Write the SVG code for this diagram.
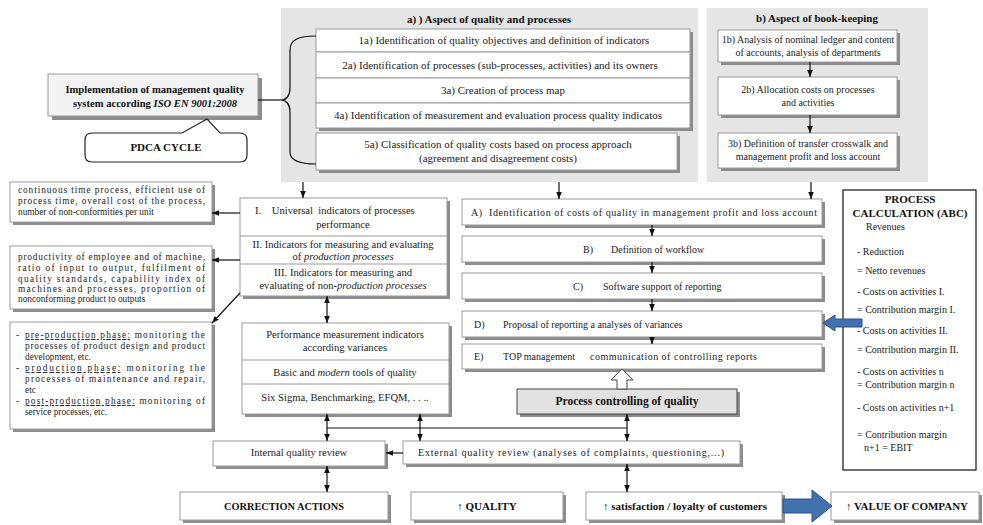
<svg xmlns="http://www.w3.org/2000/svg" width="983" height="525" viewBox="0 0 983 525">
<defs>
<style>
.t{font-family:"Liberation Serif","Times New Roman",serif;font-size:10px;fill:#222}
.c{text-anchor:middle}
.b{font-weight:bold;fill:#111}
.i{font-style:italic}
.u{text-decoration:underline}
.s11{font-size:11px}
.s106{font-size:10.6px}
.sl{font-size:9.3px}
.bx{fill:#fff;stroke:#9a9a9a;stroke-width:1}
.sh{fill:#8c8c8c}
.pn{fill:#e5e5e5}
.ln{stroke:#111;stroke-width:1.2;fill:none}
.blue{fill:#4272ad;stroke:#2c5185;stroke-width:1}
</style>
<marker id="ah" viewBox="0 0 10 10" refX="10" refY="5" markerWidth="7" markerHeight="7" markerUnits="userSpaceOnUse" orient="auto-start-reverse"><path d="M0,1 L10,5 L0,9 z" fill="#111"/></marker>
</defs>
<rect width="983" height="525" fill="#fff"/>

<g id="panel-a">
<rect class="pn" x="281" y="8" width="417" height="174"/>
<text class="t b c s11" x="489" y="23">a) ) Aspect of quality and processes</text>
<rect class="sh" x="319" y="32" width="374" height="99"/>
<g id="a1"><rect class="bx" x="316" y="29" width="374" height="23"/><text class="t c s11" x="504" y="44">1a) Identification of quality objectives  and definition of indicators</text></g>
<g id="a2"><rect class="bx" x="316" y="52" width="374" height="26"/><text class="t c s11" x="500" y="69">2a) Identification of processes (sub-processes, activities) and its owners</text></g>
<g id="a3"><rect class="bx" x="316" y="78" width="374" height="25"/><text class="t c s11" x="503" y="94">3a) Creation of process map</text></g>
<g id="a4"><rect class="bx" x="316" y="103" width="374" height="25"/><text class="t c s11" x="498" y="119">4a) Identification of measurement and evaluation process  quality indicatos</text></g>
<g id="a5"><rect class="sh" x="319" y="136" width="361" height="37"/><rect class="bx" x="316" y="133" width="361" height="37"/><text class="t c s11" x="498" y="148">5a) Classification of quality costs based on process approach</text><text class="t c s11" x="498" y="162">(agreement and disagreement costs)</text></g>
</g>

<g id="panel-b">
<rect class="pn" x="707" y="8" width="221" height="174"/>
<text class="t b c s11" x="817" y="22">b) Aspect of book-keeping</text>
<g id="b1"><rect class="sh" x="721" y="33" width="179" height="32"/><rect class="bx" x="718" y="30" width="179" height="32"/><text class="t c" x="808" y="43">1b) Analysis of nominal ledger and content</text><text class="t c" x="808" y="56">of accounts, analysis of departments</text></g>
<g id="b2"><rect class="sh" x="721" y="80" width="179" height="38"/><rect class="bx" x="718" y="77" width="179" height="38"/><text class="t c" x="808" y="93">2b) Allocation costs on processes</text><text class="t c" x="808" y="106">and activities</text></g>
<g id="b3"><rect class="sh" x="721" y="136" width="179" height="35"/><rect class="bx" x="718" y="133" width="179" height="35"/><text class="t c" x="808" y="147">3b) Definition of transfer crosswalk and</text><text class="t c" x="808" y="160">management profit and loss account</text></g>
</g>

<g id="implementation">
<rect class="sh" x="52" y="78" width="210" height="42"/>
<rect x="48" y="74" width="210" height="42" fill="#f3f3f3" stroke="#9a9a9a"/>
<text class="t b c" x="155" y="93" style="font-size:10.6px">Implementation of management quality</text>
<text class="t b c" x="155" y="107" style="font-size:10.6px">system according <tspan class="i">ISO EN 9001:2008</tspan></text>
</g>

<g id="pdca">
<path d="M92,133 H182 L207,119 L220,133 H240 Q247,133 247,140 V155 Q247,162 240,162 H92 Q85,162 85,155 V140 Q85,133 92,133 Z" fill="#fff" stroke="#222" stroke-width="1.2"/>
<text class="t b c s11" x="166" y="151">PDCA CYCLE</text>
</g>

<g id="left1">
<rect class="sh" x="13" y="185" width="202" height="40"/>
<rect class="bx" x="10" y="182" width="202" height="40"/>
<text class="t sl" x="18" y="193" textLength="187" lengthAdjust="spacing">continuous time process, efficient use of</text>
<text class="t sl" x="18" y="204" textLength="187" lengthAdjust="spacing">process time, overall cost of the process,</text>
<text class="t sl" x="18" y="215">number of non-conformities per unit</text>
</g>

<g id="left2">
<rect class="sh" x="13" y="249" width="202" height="63"/>
<rect class="bx" x="10" y="246" width="202" height="63"/>
<text class="t sl" x="18" y="260" textLength="187" lengthAdjust="spacing">productivity of employee and of machine,</text>
<text class="t sl" x="18" y="271" textLength="187" lengthAdjust="spacing">ratio of input to output, fulfilment of</text>
<text class="t sl" x="18" y="282" textLength="187" lengthAdjust="spacing">quality standards, capability index of</text>
<text class="t sl" x="18" y="292" textLength="187" lengthAdjust="spacing">machines and processes, proportion of</text>
<text class="t sl" x="18" y="302">nonconforming product to outputs</text>
</g>

<g id="left3">
<rect class="sh" x="13" y="325" width="202" height="107"/>
<rect class="bx" x="10" y="322" width="202" height="107"/>
<text class="t sl" x="16" y="338">-</text>
<text class="t sl" x="25" y="338" textLength="180" lengthAdjust="spacing"><tspan class="u">pre-production phase:</tspan> monitoring the</text>
<text class="t sl" x="25" y="349" textLength="180" lengthAdjust="spacing">processes of product design and product</text>
<text class="t sl" x="25" y="360">development, etc.</text>
<text class="t sl" x="16" y="371">-</text>
<text class="t sl" x="25" y="371" textLength="180" lengthAdjust="spacing"><tspan class="u">production phase:</tspan>  monitoring the</text>
<text class="t sl" x="25" y="382" textLength="180" lengthAdjust="spacing">processes of maintenance and repair,</text>
<text class="t sl" x="25" y="393">etc</text>
<text class="t sl" x="16" y="404">-</text>
<text class="t sl" x="25" y="404" textLength="180" lengthAdjust="spacing"><tspan class="u">post-production phase:</tspan> monitoring of</text>
<text class="t sl" x="25" y="415">service processes, etc.</text>
</g>

<g id="indicators">
<rect class="sh" x="243" y="201" width="207" height="98"/>
<rect class="bx" x="240" y="198" width="207" height="98"/>
<line x1="240" y1="236" x2="447" y2="236" stroke="#9a9a9a"/>
<line x1="240" y1="264" x2="447" y2="264" stroke="#9a9a9a"/>
<text class="t s106" x="255" y="214" xml:space="preserve">I.    Universal  indicators of processes</text>
<text class="t c s106" x="343" y="228">performance</text>
<text class="t c s106" x="343" y="248">II. Indicators for measuring and evaluating</text>
<text class="t c s106" x="343" y="260">of <tspan class="i">production processes</tspan></text>
<text class="t c s106" x="343" y="276">III. Indicators for measuring and</text>
<text class="t c s106" x="343" y="289">evaluating of non-<tspan class="i">production processes</tspan></text>
</g>

<g id="performance">
<rect class="sh" x="245" y="326" width="207" height="91"/>
<rect class="bx" x="242" y="323" width="207" height="91"/>
<line x1="242" y1="360" x2="449" y2="360" stroke="#9a9a9a"/>
<line x1="242" y1="384" x2="449" y2="384" stroke="#9a9a9a"/>
<text class="t c s106" x="345" y="338">Performance measurement indicators</text>
<text class="t c s106" x="345" y="351">according variances</text>
<text class="t c s106" x="345" y="376">Basic and <tspan class="i">modern</tspan> tools of quality</text>
<text class="t c s106" x="345" y="401">Six Sigma, Benchmarking, EFQM, . . ..</text>
</g>

<g id="stepA"><rect class="sh" x="465" y="202" width="360" height="26"/><rect class="bx" x="462" y="199" width="360" height="26"/><text class="t" x="471" y="216" textLength="346" lengthAdjust="spacing" xml:space="preserve">A)  Identification of costs of quality in management profit and loss account</text></g>
<g id="stepB"><rect class="sh" x="465" y="239" width="360" height="26"/><rect class="bx" x="462" y="236" width="360" height="26"/><text class="t" x="583" y="253">B)</text><text class="t" x="611" y="253">Definition of workflow</text></g>
<g id="stepC"><rect class="sh" x="465" y="276" width="360" height="26"/><rect class="bx" x="462" y="273" width="360" height="26"/><text class="t" x="573" y="290">C)</text><text class="t" x="603" y="290">Software support of reporting</text></g>
<g id="stepD"><rect class="sh" x="465" y="314" width="360" height="26"/><rect class="bx" x="462" y="311" width="360" height="26"/><text class="t" x="474" y="328">D)</text><text class="t" x="503" y="328">Proposal of reporting a analyses of variances</text></g>
<g id="stepE"><rect class="sh" x="465" y="347" width="360" height="25"/><rect class="bx" x="462" y="344" width="360" height="25"/><text class="t" x="474" y="360">E)</text><text class="t" x="503" y="360">TOP management</text><text class="t" x="590" y="360" textLength="167" lengthAdjust="spacing">communication of controlling reports</text></g>

<g id="controlling">
<rect x="520" y="392" width="220" height="25" fill="#8c8c8c"/>
<rect x="517" y="389" width="220" height="25" fill="#e2e2e2" stroke="#444"/>
<text class="t b c" x="627" y="405" style="font-size:11.5px">Process controlling of quality</text>
</g>

<g id="calc">
<rect x="843" y="190" width="133" height="280" fill="#fff" stroke="#111" stroke-width="1.2"/>
<text class="t b c s11" x="910" y="203">PROCESS</text>
<text class="t b c s11" x="910" y="217">CALCULATION (ABC)</text>
<text class="t" x="866" y="230">Revenues</text>
<text class="t" x="857" y="255">- Reduction</text>
<text class="t" x="857" y="274">= Netto revenues</text>
<text class="t" x="857" y="295">- Costs on activities I.</text>
<text class="t" x="857" y="313">= Contribution margin I.</text>
<text class="t" x="857" y="334">- Costs on activities II.</text>
<text class="t" x="857" y="353">= Contribution margin II.</text>
<text class="t" x="857" y="375">- Costs on activities n</text>
<text class="t" x="857" y="388">= Contribution margin n</text>
<text class="t" x="857" y="411">- Costs on activities n+1</text>
<text class="t" x="857" y="438">= Contribution margin</text>
<text class="t" x="864" y="451">n+1 = EBIT</text>
</g>

<g id="internal"><rect class="sh" x="216" y="444" width="172" height="25"/><rect class="bx" x="213" y="441" width="172" height="25"/><text class="t c s106" x="299" y="456">Internal quality review</text></g>
<g id="external"><rect class="sh" x="406" y="444" width="337" height="23"/><rect class="bx" x="403" y="441" width="337" height="23"/><text class="t" x="418" y="456" textLength="306" lengthAdjust="spacing">External quality review (analyses of complaints, questioning,...)</text></g>

<g id="correction"><rect class="sh" x="183" y="495" width="208" height="28"/><rect class="bx" x="180" y="492" width="208" height="28"/><text class="t b c" x="284" y="510" style="font-size:10.3px">CORRECTION ACTIONS</text></g>
<g id="quality"><rect class="sh" x="414" y="495" width="152" height="28"/><rect class="bx" x="411" y="492" width="152" height="28"/><text class="t b c s11" x="487" y="510">↑ QUALITY</text></g>
<g id="satisfaction"><rect class="sh" x="589" y="495" width="196" height="28"/><rect class="bx" x="586" y="492" width="196" height="28"/><text class="t b c s11" x="685" y="510">↑ satisfaction / loyalty of customers</text></g>
<g id="value"><rect class="sh" x="834" y="495" width="148" height="28"/><rect class="bx" x="831" y="492" width="148" height="28"/><text class="t b c s11" x="907" y="510">↑ VALUE OF COMPANY</text></g>

<g id="connectors">
<path class="ln" d="M258,100 H281"/>
<path class="ln" d="M316,36 C298,36 290,40 290,50 V88 C290,96 286,100 281,100 C286,100 290,104 290,112 V152 C290,160 298,164 316,164"/>
<path class="ln" marker-end="url(#ah)" d="M303,182 V198"/>
<path class="ln" marker-end="url(#ah)" d="M559,182 V199"/>
<path class="ln" marker-end="url(#ah)" d="M811,182 V199"/>
<path class="ln" marker-end="url(#ah)" d="M810,62 V77"/>
<path class="ln" marker-end="url(#ah)" d="M810,115 V133"/>
<path class="ln" marker-end="url(#ah)" d="M240,213 H212"/>
<path class="ln" marker-end="url(#ah)" d="M240,260 H212"/>
<path class="ln" marker-end="url(#ah)" d="M240,293 L212,323"/>
<path class="ln" marker-start="url(#ah)" marker-end="url(#ah)" d="M327,296 V323"/>
<path class="ln" marker-end="url(#ah)" d="M652,225 V236"/>
<path class="ln" marker-end="url(#ah)" d="M652,262 V273"/>
<path class="ln" marker-end="url(#ah)" d="M652,299 V311"/>
<path class="ln" marker-end="url(#ah)" d="M652,337 V344"/>
<path d="M617,389 V380 H611 L622,369 L633,380 H627 V389 Z" fill="#fff" stroke="#444" stroke-width="1"/>
<path class="ln" marker-start="url(#ah)" marker-end="url(#ah)" d="M627,414 V441"/>
<path class="ln" d="M327,428 H627"/>
<path class="ln" marker-start="url(#ah)" marker-end="url(#ah)" d="M327,414 V441"/>
<path class="ln" marker-start="url(#ah)" marker-end="url(#ah)" d="M420,414 V441"/>
<path class="ln" marker-end="url(#ah)" d="M403,453 H386"/>
<path class="ln" marker-start="url(#ah)" marker-end="url(#ah)" d="M327,466 V492"/>
<path class="ln" marker-start="url(#ah)" marker-end="url(#ah)" d="M627,464 V492"/>
<path class="blue" d="M862,319 H835 V315 L823,323 L835,331 V327 H862 Z"/>
<path class="blue" d="M783,499 H812 V490 L832,506 L812,522 V513 H783 Z"/>
</g>
</svg>
